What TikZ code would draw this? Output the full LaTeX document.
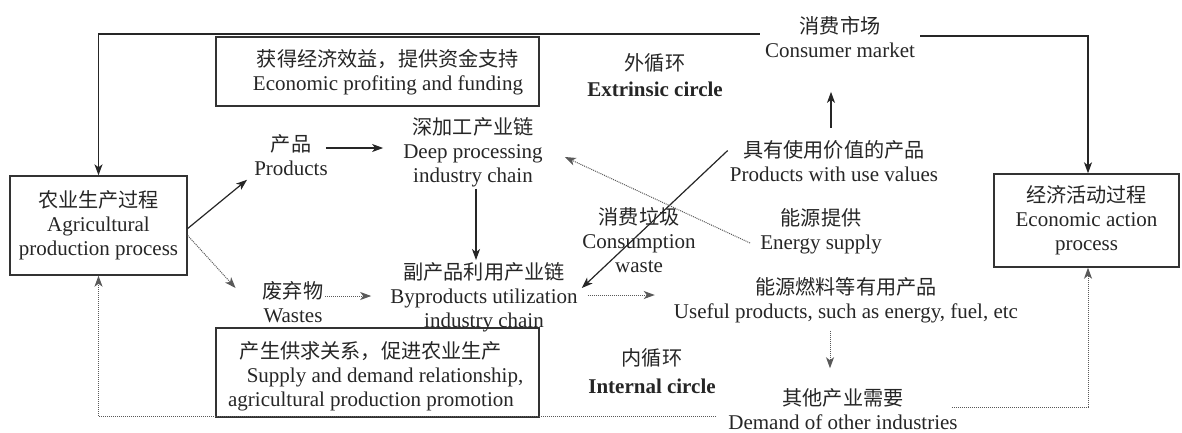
\documentclass[tikz,border=0pt]{standalone}
\usepackage{fontspec}
\setmainfont{Liberation Serif}
\newfontfamily\cjk{Noto Sans CJK SC}[Scale=0.96]
\usetikzlibrary{arrows.meta}
\begin{document}
\begin{tikzpicture}[x=1pt,y=-1pt,
  every node/.style={font=\fontsize{21}{24}\selectfont, align=center, inner sep=2pt, text=black!85},
  box/.style={draw=black!80, line width=1.4pt},
  arr/.style={draw=black!85, line width=1.2pt, -{Stealth[length=11pt,width=8pt,inset=3pt]}},
  darr/.style={draw=black!65, line width=1pt, densely dotted, -{Stealth[length=11pt,width=8pt,inset=3pt]}}]
\useasboundingbox[fill=white] (0,0) rectangle (1182,432);

% boxes
\node[box, minimum width=177, minimum height=99] (agri) at (98.5,225.5)
  {{\cjk 农业生产过程}\\Agricultural\\production process};
\node[box, minimum width=185, minimum height=93] (econ) at (1086.5,220.5)
  {{\cjk 经济活动过程}\\Economic action\\process};
\node[box, minimum width=323, minimum height=69] (tb) at (377.5,71.5) {};
\node (tbt) at (388,72) {{\cjk 获得经济效益，提供资金支持}\\Economic profiting and funding};
\node[box, minimum width=323, minimum height=89] (bb) at (377.5,372.5) {};
\node (bbt) at (371,376) {{\cjk 产生供求关系，促进农业生产}\\\hspace*{28pt}Supply and demand relationship,\\agricultural production promotion};

% text nodes
\node[inner xsep=5pt] (cm) at (840,37) {{\cjk 消费市场}\\Consumer market};
\node (ext) at (655,75) {{\cjk 外循环}\\[2pt]\textbf{Extrinsic circle}};
\node (int) at (652,371) {{\cjk 内循环}\\[4pt]\textbf{Internal circle}};
\node (prod) at (291,155) {{\cjk 产品}\\Products};
\node (deep) at (473,152) {{\cjk 深加工产业链}\\Deep processing\\industry chain};
\node (byp) at (484,297) {{\cjk 副产品利用产业链}\\Byproducts utilization\\industry chain};
\node (waste) at (293,302) {{\cjk 废弃物}\\Wastes};
\node (cw) at (639,240) {{\cjk 消费垃圾}\\Consumption\\waste};
\node (es) at (821,231) {{\cjk 能源提供}\\Energy supply};
\node (puv) at (834,161.5) {{\cjk 具有使用价值的产品}\\Products with use values};
\node (useful) at (846,300) {{\cjk 能源燃料等有用产品}\\Useful products, such as energy, fuel, etc};
\node[inner ysep=1pt] (other) at (843,409) {{\cjk 其他产业需要}\\Demand of other industries};

% outer loop
\draw[arr] ([yshift=3]cm.west) -| (agri.north);
\draw[arr] ([yshift=1]cm.east) -| ([xshift=1.5]econ.north);

% solid connectors
\draw[arr] ([yshift=-3]agri.east) -- ([xshift=-5,yshift=-2]prod.south west);
\draw[arr] ([xshift=-4,yshift=7]prod.east) -- ([xshift=-18,yshift=4]deep.west);
\draw[arr] ([xshift=3]deep.south) -- ([xshift=3]deep.south |- byp.north);
\draw[arr] ([yshift=11]puv.west) -- ([xshift=2,yshift=9]byp.east);
\draw[arr] ([xshift=-3,yshift=11]puv.north) -- ([xshift=-9,yshift=-32]cm.south);

% dotted connectors
\draw[darr] ([yshift=-10]agri.east) -- ([xshift=-25,yshift=14]waste.west);
\draw[darr] ([yshift=6]waste.east) -- ([xshift=-17,yshift=1]byp.west);
\draw[darr] ([xshift=-8,yshift=-12]es.west) -- ([xshift=20,yshift=-5]deep.east);
\draw[darr] ([xshift=8,yshift=2]byp.east) -- ([xshift=-17,yshift=5]useful.west);
\draw[darr] ([xshift=-16,yshift=-6]useful.south) -- ([xshift=-13,yshift=19]other.north);
\draw[darr] ([xshift=-8,yshift=2]other.east) -| ([xshift=1.5]econ.south);
\draw[darr] ([xshift=-10,yshift=-7]other.west) -| (agri.south);
\end{tikzpicture}
\end{document}
